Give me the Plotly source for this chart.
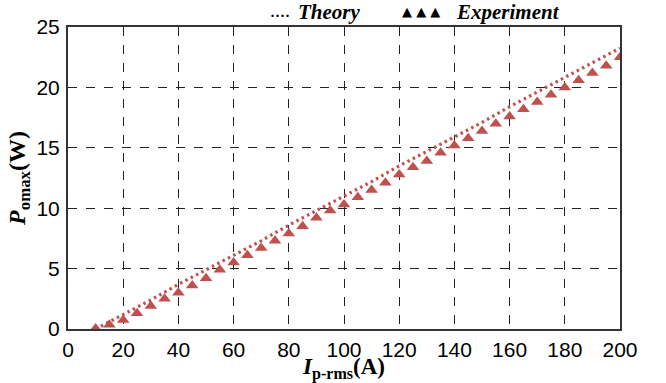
import plotly.graph_objects as go

# Data
exp_current = [10, 15, 20, 25, 30, 35, 40, 45, 50, 55, 60, 65, 70, 75, 80, 85, 90, 95, 100,
               105, 110, 115, 120, 125, 130, 135, 140, 145, 150, 155, 160, 165, 170, 175, 180,
               185, 190, 195, 200]
exp_power = [0.05, 0.35, 0.75, 1.3, 1.9, 2.5, 3.0, 3.6, 4.2, 4.9, 5.5, 6.1, 6.7, 7.3, 7.9,
             8.5, 9.2, 9.8, 10.3, 10.9, 11.5, 12.1, 12.8, 13.4, 13.9, 14.6, 15.2, 15.8, 16.4,
             17.0, 17.6, 18.2, 18.8, 19.4, 20.0, 20.6, 21.2, 21.8, 22.5]

theory_current = [10, 20, 30, 40, 50, 60, 70, 80, 90, 100, 110, 120, 130, 140, 150, 160,
                  170, 180, 190, 200]
theory_power = [0.0, 1.2, 2.4, 3.7, 4.9, 6.1, 7.3, 8.6, 9.8, 11.0, 12.2, 13.5, 14.7, 15.9,
                17.1, 18.4, 19.6, 20.8, 22.0, 23.25]

x_ticks = [0, 20, 40, 60, 80, 100, 120, 140, 160, 180, 200]
y_ticks = [0, 5, 10, 15, 20, 25]

RED = "#C0504D"
SERIF = "Liberation Serif"
SANS = "Liberation Sans"

fig = go.Figure()
fig.add_trace(go.Scatter(
    x=theory_current, y=theory_power, mode="lines", name="Theory",
    line=dict(color=RED, width=3.2, dash="2.5px,3.5px"), showlegend=False,
))
fig.add_trace(go.Scatter(
    x=exp_current, y=exp_power, mode="markers", name="Experiment",
    marker=dict(symbol="triangle-up", size=11, color=RED), showlegend=False,
))

axis_common = dict(
    showgrid=True, gridcolor="#222", griddash="dash", gridwidth=1.3,
    showline=True, linecolor="#333", linewidth=2, mirror=True,
    zeroline=False, ticks="", automargin=False,
    tickfont=dict(family=SANS, size=21, color="black"),
)

fig.update_xaxes(range=[0, 200], tickvals=x_ticks, ticklabelstandoff=1,
                 title=dict(text="<b><i>I</i><sub>p-rms</sub>(A)</b>",
                            font=dict(family=SERIF, size=23, color="black"), standoff=2),
                 **axis_common)
fig.update_yaxes(range=[0, 25], tickvals=y_ticks, ticklabelstandoff=2,
                 title=dict(text="<b><i>P</i><sub>omax</sub>(W)</b>",
                            font=dict(family=SERIF, size=24, color="black"), standoff=4),
                 **axis_common)

legend_bits = [
    ("<b>····</b>", 200, 15, SERIF, 1),
    ("<b><i>Theory</i></b>", 228, 21, SERIF, 1),
    ("▲ ▲ ▲", 332, 13, "DejaVu Sans", 6),
    ("<b><i>Experiment</i></b>", 386, 21, SERIF, 1),
]
for txt, shift, size, fam, ys in legend_bits:
    fig.add_annotation(x=0, y=1.0, xref="paper", yref="paper", xanchor="left", yanchor="bottom",
                       text=txt, showarrow=False, xshift=shift, yshift=ys,
                       font=dict(family=fam, size=size, color="black"))

fig.update_layout(
    width=666, height=383,
    margin=dict(l=68, r=46, t=27, b=54),
    plot_bgcolor="white", paper_bgcolor="white",
)

fig.write_html("out.html")
